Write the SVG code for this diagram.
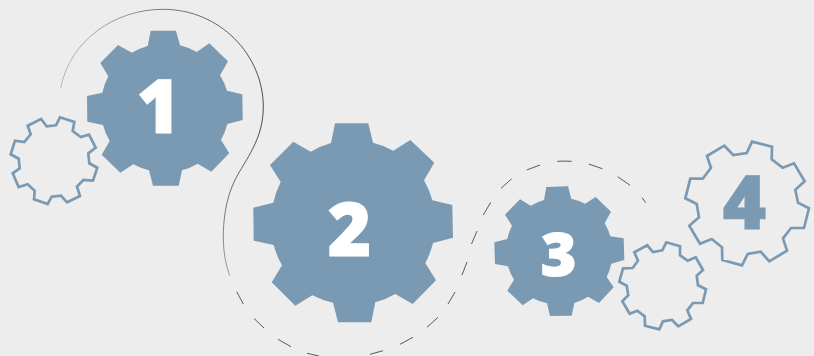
<svg xmlns="http://www.w3.org/2000/svg" width="814" height="356" viewBox="0 0 814 356">
<defs>
<linearGradient id="fade" gradientUnits="userSpaceOnUse" x1="60" y1="88" x2="264" y2="110">
<stop offset="0" stop-color="#aaa"/><stop offset="0.5" stop-color="#555"/><stop offset="1" stop-color="#222"/>
</linearGradient>
<linearGradient id="fade2" gradientUnits="userSpaceOnUse" x1="250" y1="130" x2="228" y2="276">
<stop offset="0" stop-color="#222"/><stop offset="1" stop-color="#888"/>
</linearGradient>
</defs>
<style>
.gear{fill:#7a9ab3}
.ring{fill:none;stroke:#7a9ab3;stroke-width:2.7;stroke-linejoin:miter}
.num{font-family:"Open Sans","Noto Sans",sans-serif;font-weight:800;text-anchor:middle;stroke-width:1.2;stroke-linejoin:miter}
.line{fill:none;stroke-width:.8}
</style>
<rect width="814" height="356" fill="#ededed"/>
<g id="connectors">
<path class="line" stroke="url(#fade)" d="M60.7 88C70 40 115 9.3 163 9.3C220 9.3 263.3 55 263.3 107"/>
<path class="line" stroke="url(#fade2)" d="M263.3 107C263.3 140 245 160 235 180C226 198 223 220 223.3 240C223.5 253 226 265 229.7 275.7"/>
<path class="line" stroke="#333" d="M236.7 291.7L243.3 304M254 318.5L264 328M278 339.3L291 346.7M307 353.3L319 356M370 354.3L383 350.7M400 344.3L413 337.3M427 327.3L438 317.3M448 304L455 292M462 275L467 262M471.5 244L477 231M483.3 215L490.7 202.3M501 188.3L511.7 178.7M526.7 170L540 165M557.3 161.3Q565 160.9 571.7 161.3M588.7 164L602.3 168.7M617.7 176.7L630 185.3M642 197.7L645.7 202.7"/>
</g>
<g id="gear-small-a"><polygon class="ring" points="27.7,125.7 41,119 46.7,126.3 56,125.3 60,117.3 74.3,122 72.7,131 80.7,137 89,134.7 95.7,147.7 88.3,153.3 89.3,163.3 97.3,167.7 93,180.7 83.3,180 77,186.7 80,196 67,202.3 61,195.7 51.7,196.7 47.7,204 34,199.3 34.7,190.7 27.7,184.3 18.7,187 12.7,173.3 19.7,168.3 18.7,158.7 10.7,154.3 15,140.7 24.3,142 30.7,134.3"/></g>
<g id="gear-1">
<path class="gear" d="M150.7 30.7L176 30.7L180 45.3A64 64 0 0 1 196.7 52L209.3 43.3L228 61.3L220 75.3A64 64 0 0 1 227 90.7L242.3 94.3L242.7 120L227.3 124A64 64 0 0 1 221 140L229.3 153.3L211.3 171.7L197.7 163.7A64 64 0 0 1 182 170.3L178.7 185.7L153 185.7L149 170.3A64 64 0 0 1 133.3 164.3L120.3 172.7L101.7 154.7L109.7 141A64 64 0 0 1 103 125L87.3 121.7L87 96L102.3 92.7A64 64 0 0 1 108.3 76.3L100.3 63L118 45L132 52.7A64 64 0 0 1 147.7 46Z"/>
<text class="num" x="158.5" y="132.6" font-size="74" fill="#fff" stroke="#fff">1</text>
</g>
<g id="gear-2">
<path class="gear" d="M335 123.3L368.3 123.3L373 142.7A82 82 0 0 1 393.3 150.7L410.3 140L434.3 162.7L424 180.3A82 82 0 0 1 432.3 200.3L452.3 205L453 237.7L433 243A82 82 0 0 1 425.3 263L436 280.3L412.7 304L395.3 294A82 82 0 0 1 375.3 302.3L371.3 322.3L338 322.3L333 302.7A82 82 0 0 1 312.3 295.3L295.3 305.7L271.7 282.3L282 265.3A82 82 0 0 1 273.7 245L253.7 240.7L253.3 207.7L273.3 202.7A82 82 0 0 1 280.7 182L270 165L293.3 141.7L310.7 151.7A82 82 0 0 1 331 143Z"/>
<text class="num" x="349.5" y="256" font-size="74" fill="#fff" stroke="#fff">2</text>
</g>
<g id="gear-3">
<path class="gear" d="M546.3 187L568 186.3L571.3 198.7A54 54 0 0 1 585 203.7L595.7 197L611 211.7L604.7 223.3A54 54 0 0 1 610.3 236.3L623.7 238.3L624.3 260L611.3 263.7A54 54 0 0 1 606.7 277L613.7 287.3L599 303L588 296.7A54 54 0 0 1 574.3 303L571.7 315.7L550 316L547 303.3A54 54 0 0 1 533 298.3L522.7 305.3L507.3 290.7L514 279.7A54 54 0 0 1 508 266.3L495 264L494.3 242.3L507.3 239A54 54 0 0 1 512 225.7L505 214.7L520 199.3L530.7 205.7A54 54 0 0 1 544 200Z"/>
<text class="num" x="558.5" y="276.2" font-size="61" fill="#fff" stroke="#fff">3</text>
</g>
<g id="gear-small-b"><polygon class="ring" points="634.3,252.3 647.3,245.3 653,252 662.3,250.3 666.3,242.3 680,246.3 680,255.3 687.7,260.7 695.7,257.3 703,270 696.7,275.7 698,285.3 706,289.3 702.7,303 693,303 687.3,310.3 691,319 678.3,326.3 672,320 663,321.3 659.3,329.3 645,325.7 644.7,316.3 637.3,310.7 629.7,313.7 622.3,301.3 628.3,295.3 626.7,285.7 619.3,281.7 623,268.3 632.7,268 638,260.7"/></g>
<g id="gear-4">
<polygon class="ring" points="707,156 724.3,145.7 733.3,155 746.7,153 752,141.7 772,146.7 771.7,159.3 782.7,167.7 794,163.3 804.7,181.3 795.3,189.7 798,202.7 809,208.3 804,228 791,228 783,238.3 787,250.7 769.3,261.3 760.7,251.7 747.7,254 742,265.3 722.3,260 722,247.3 711.7,239 700,243.7 689.3,225.7 699,217.3 696.7,204 685.3,198.3 690.3,178.7 702.7,178.7 711,167.7"/>
<text class="num" x="744.5" y="228.6" font-size="74" fill="#7a9ab3" stroke="#7a9ab3">4</text>
</g>
</svg>
